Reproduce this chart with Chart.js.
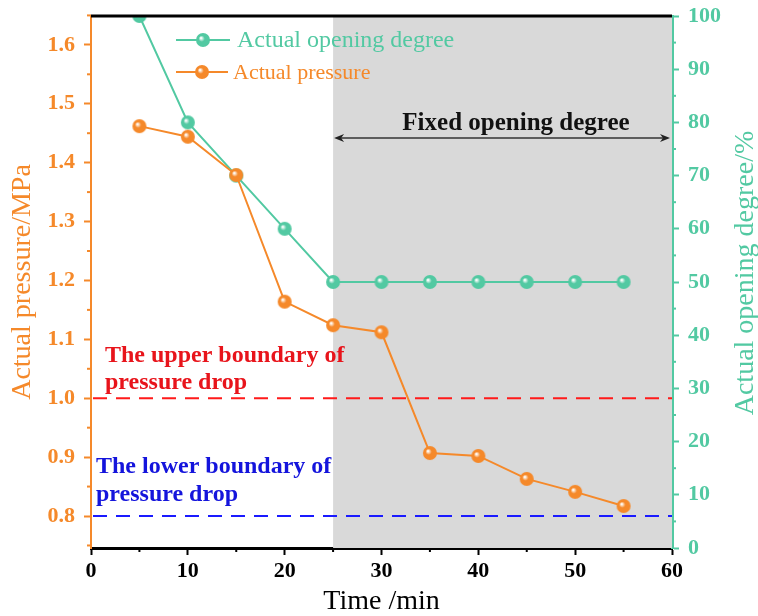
<!DOCTYPE html>
<html>
<head>
<meta charset="utf-8">
<script src="https://cdn.jsdelivr.net/npm/chart.js@4/dist/chart.umd.min.js"></script>
<style>
  html, body { margin: 0; padding: 0; background: #fff; }
  #wrap { width: 758px; height: 616px; }
</style>
</head>
<body>
<div id="wrap"><canvas id="myChart" width="758" height="616"></canvas></div>
<script>
// data
const times = [5, 10, 15, 20, 25, 30, 35, 40, 45, 50, 55];
const pressure = [1.462, 1.444, 1.379, 1.164, 1.124, 1.112, 0.907, 0.902, 0.863, 0.841, 0.817];
const opening = [100, 80, 70, 60, 50, 50, 50, 50, 50, 50, 50];
const boundaries = [1.0, 0.8];
const fixedRange = [25, 60];

const ORANGE = '#F5892A';
const TEAL = '#52C9A2';
const SERIF = "'Liberation Serif', 'Times New Roman', serif";

// little shaded ball used as the marker
function sphere(color, r) {
  const c = document.createElement('canvas');
  c.width = r * 2 + 2;
  c.height = r * 2 + 2;
  const g = c.getContext('2d');
  const grad = g.createRadialGradient(r - 1, r - 1, 0.5, r + 1, r + 1, r + 1);
  grad.addColorStop(0, '#ffffff');
  grad.addColorStop(0.35, color);
  grad.addColorStop(1, color);
  g.fillStyle = grad;
  g.beginPath();
  g.arc(r + 1, r + 1, r, 0, Math.PI * 2);
  g.fill();
  return c;
}
const orangeBall = sphere(ORANGE, 7);
const tealBall = sphere(TEAL, 7);

const decorPlugin = {
  id: 'decor',
  beforeDatasetsDraw(chart) {
    const { ctx, chartArea: a, scales: { x, y } } = chart;
    ctx.save();
    // fixed opening region
    ctx.fillStyle = '#D9D9D9';
    const x0 = x.getPixelForValue(fixedRange[0]);
    const x1 = x.getPixelForValue(fixedRange[1]);
    ctx.fillRect(x0, a.top, x1 - x0, a.bottom - a.top);
    // boundary lines
    ctx.lineWidth = 2;
    ctx.setLineDash([14, 9]);
    ['#FF1A1A', '#1A1AFF'].forEach((col, i) => {
      const py = y.getPixelForValue(boundaries[i]);
      ctx.strokeStyle = col;
      ctx.beginPath();
      ctx.moveTo(a.left + 2, py);
      ctx.lineTo(a.right, py);
      ctx.stroke();
    });
    ctx.restore();
  },
  afterDraw(chart) {
    const { ctx, chartArea: a, scales: { x, y, y1 } } = chart;
    ctx.save();
    // top frame
    ctx.strokeStyle = '#000';
    ctx.lineWidth = 3;
    ctx.beginPath();
    ctx.moveTo(a.left, a.top);
    ctx.lineTo(a.right, a.top);
    ctx.stroke();

    // minor ticks
    ctx.lineWidth = 2;
    ctx.strokeStyle = '#000';
    for (let v = 5; v < 60; v += 10) {
      const px = x.getPixelForValue(v);
      ctx.beginPath(); ctx.moveTo(px, a.bottom); ctx.lineTo(px, a.bottom + 4); ctx.stroke();
    }
    ctx.strokeStyle = ORANGE;
    for (let v = 0.75; v <= y.max + 0.002; v += 0.1) {
      const py = y.getPixelForValue(v);
      ctx.beginPath(); ctx.moveTo(a.left, py); ctx.lineTo(a.left - 4, py); ctx.stroke();
    }
    ctx.strokeStyle = TEAL;
    for (let v = 5; v < 100; v += 10) {
      const py = y1.getPixelForValue(v);
      ctx.beginPath(); ctx.moveTo(a.right, py); ctx.lineTo(a.right + 4, py); ctx.stroke();
    }

    // right axis title, reads bottom to top
    ctx.fillStyle = TEAL;
    ctx.font = '28px ' + SERIF;
    ctx.textAlign = 'center';
    ctx.textBaseline = 'middle';
    ctx.translate(746, 273);
    ctx.rotate(-Math.PI / 2);
    ctx.fillText('Actual opening degree/%', 0, 0);
    ctx.restore();

    ctx.save();
    // legend
    const legend = [
      { text: 'Actual opening degree', color: TEAL, ball: tealBall, y: 40, l: 176, r: 230, tx: 237, size: 24 },
      { text: 'Actual pressure', color: ORANGE, ball: orangeBall, y: 72, l: 176, r: 228, tx: 233, size: 22 },
    ];
    ctx.textBaseline = 'middle';
    legend.forEach(it => {
      ctx.strokeStyle = it.color;
      ctx.lineWidth = 2;
      ctx.beginPath(); ctx.moveTo(it.l, it.y); ctx.lineTo(it.r, it.y); ctx.stroke();
      const mx = (it.l + it.r) / 2;
      ctx.drawImage(it.ball, mx - it.ball.width / 2, it.y - it.ball.height / 2);
      ctx.fillStyle = it.color;
      ctx.font = it.size + 'px ' + SERIF;
      ctx.fillText(it.text, it.tx, it.y + 1);
    });

    // annotations
    ctx.font = 'bold 24px ' + SERIF;
    ctx.fillStyle = '#E8141B';
    ctx.fillText('The upper boundary of', 105, 356);
    ctx.fillText('pressure drop', 105, 383);
    ctx.fillStyle = '#1414DC';
    ctx.fillText('The lower boundary of', 96, 467);
    ctx.fillText('pressure drop', 96, 495);

    ctx.font = 'bold 25px ' + SERIF;
    ctx.fillStyle = '#111';
    ctx.textAlign = 'center';
    ctx.fillText('Fixed opening degree', 516, 124);

    // double arrow over the fixed region
    const ax0 = x.getPixelForValue(fixedRange[0]) + 1;
    const ax1 = x.getPixelForValue(fixedRange[1]) - 2;
    const ay = 138;
    ctx.strokeStyle = '#333';
    ctx.fillStyle = '#222';
    ctx.lineWidth = 1.5;
    ctx.beginPath(); ctx.moveTo(ax0 + 4, ay); ctx.lineTo(ax1 - 4, ay); ctx.stroke();
    [[ax0, 1], [ax1, -1]].forEach(([px, d]) => {
      ctx.beginPath();
      ctx.moveTo(px, ay);
      ctx.lineTo(px + 10 * d, ay - 4);
      ctx.lineTo(px + 7 * d, ay);
      ctx.lineTo(px + 10 * d, ay + 4);
      ctx.closePath();
      ctx.fill();
    });
    ctx.restore();
  },
};

const fitY = (w) => (s) => {
  s.width = w;
  s.paddingTop = 0;
  s.paddingBottom = 0;
};

const config = {
  type: 'line',
  data: {
    labels: times,
    datasets: [
      {
        label: 'Actual pressure',
        data: times.map((t, i) => ({ x: t, y: pressure[i] })),
        yAxisID: 'y',
        borderColor: ORANGE,
        borderWidth: 2,
        pointStyle: orangeBall,
        tension: 0,
        clip: 0,
      },
      {
        label: 'Actual opening degree',
        data: times.map((t, i) => ({ x: t, y: opening[i] })),
        yAxisID: 'y1',
        borderColor: TEAL,
        borderWidth: 2,
        pointStyle: tealBall,
        tension: 0,
        clip: 0,
      },
    ],
  },
  options: {
    responsive: false,
    animation: false,
    events: [],
    layout: { padding: { top: 16, left: 0, right: 0, bottom: 0 } },
    plugins: {
      legend: { display: false },
      tooltip: { enabled: false },
    },
    scales: {
      x: {
        type: 'linear',
        min: 0,
        max: 60,
        afterFit: (s) => { s.height = 68; s.paddingLeft = 0; s.paddingRight = 0; },
        ticks: {
          stepSize: 10,
          padding: 3,
          color: '#000',
          font: { family: SERIF, size: 22, weight: 'bold' },
        },
        grid: { drawOnChartArea: false, tickLength: 7, tickWidth: 2, tickColor: '#000' },
        border: { color: '#000', width: 3 },
        title: {
          display: true,
          text: 'Time /min',
          color: '#000',
          padding: { top: 0, bottom: 0 },
          font: { family: SERIF, size: 28, lineHeight: 1 },
        },
      },
      y: {
        position: 'left',
        min: 0.7457,
        max: 1.649,
        afterFit: fitY(91),
        ticks: {
          stepSize: 0.1,
          includeBounds: false,
          padding: 9,
          color: ORANGE,
          font: { family: SERIF, size: 22, weight: 'bold' },
          callback: (v) => v.toFixed(1),
        },
        grid: { drawOnChartArea: false, tickLength: 7, tickWidth: 2, tickColor: ORANGE },
        border: { color: ORANGE, width: 2 },
        title: {
          display: true,
          text: 'Actual pressure/MPa',
          color: ORANGE,
          padding: { top: 9, bottom: 0 },
          font: { family: SERIF, size: 28, lineHeight: 1 },
        },
      },
      y1: {
        position: 'right',
        min: 0,
        max: 100,
        afterFit: fitY(86),
        ticks: {
          stepSize: 10,
          padding: 9,
          color: TEAL,
          font: { family: SERIF, size: 22, weight: 'bold' },
        },
        grid: { drawOnChartArea: false, tickLength: 7, tickWidth: 2, tickColor: TEAL },
        border: { color: TEAL, width: 3 },
      },
    },
  },
  plugins: [decorPlugin],
};

const myChart = new Chart(document.getElementById('myChart'), config);
</script>
</body>
</html>
